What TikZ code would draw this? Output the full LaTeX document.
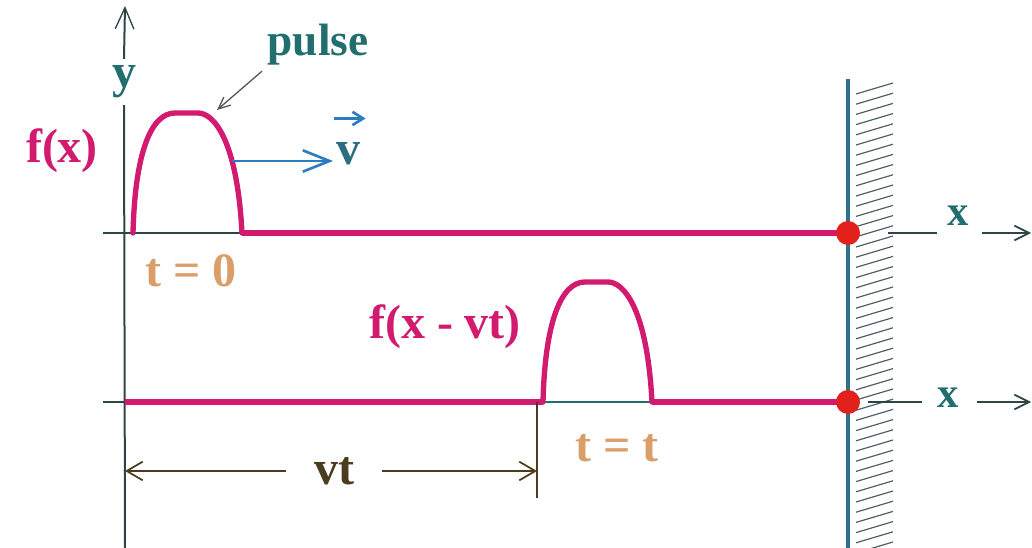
\documentclass[tikz,border=0pt]{standalone}
\usepackage{fontspec}
\setmainfont{Liberation Serif}
\usetikzlibrary{arrows.meta,positioning}
\definecolor{WaveMagenta}{HTML}{D21A6E}
\definecolor{WaveTeal}{HTML}{226E6E}
\definecolor{WaveVtext}{HTML}{2A6E80}
\definecolor{WaveTan}{HTML}{DA9E68}
\definecolor{WaveBlue}{HTML}{2C7DC0}
\definecolor{WaveWall}{HTML}{2E6F8C}
\definecolor{WaveRed}{HTML}{E2201C}
\definecolor{WaveBrown}{HTML}{4A3C1C}
\definecolor{WaveAxis}{HTML}{2F4545}
\tikzset{
  lbl/.style={font=\fontsize{36}{40}\selectfont\bfseries, inner sep=0pt},
  axisline/.style={WaveAxis, line width=1.5pt},
  stringline/.style={WaveMagenta, line width=4.5pt},
  pulseline/.style={WaveMagenta, line width=4pt, line join=round, line cap=round},
  wallline/.style={WaveWall, line width=3pt},
  hatchline/.style={WaveAxis!85, line width=0.9pt},
  dimline/.style={WaveBrown, line width=1.3pt, -{Straight Barb[length=12pt,width=14pt,line width=1.3pt]}},
  barb/.style={-{Straight Barb[length=11pt,width=11pt,line width=1.3pt]}},
  bigbarb/.style={-{Straight Barb[length=16pt,width=14pt,line width=1pt]}},
  pointer/.style={black!65, line width=1pt, -{Straight Barb[length=9pt,width=8pt,line width=1pt]}},
  pulseshape/.pic={
    \draw[pulseline] (0,0) .. controls (2,-80) and (18,-120) .. (42,-120)
      -- (65,-120) .. controls (80,-120) and (104,-95) .. (109,0);
  }
}

\begin{document}
\begin{tikzpicture}[x=0.75pt,y=-0.75pt]
  \useasboundingbox (0,0) rectangle (1032,548);

  % Reference points
  \coordinate (ybot) at (125,548);
  \coordinate (ytop) at (125,6);
  \coordinate (tickA) at (103,233);
  \coordinate (footA1) at (133,233);
  \coordinate (footA2) at (242,233);
  \coordinate (dotA) at (848,233);
  \coordinate (tickB) at (103,402);
  \coordinate (origB) at (125,402);
  \coordinate (footB1) at (543,402);
  \coordinate (footB2) at (652,402);
  \coordinate (dotB) at (848,402);
  \coordinate (walltop) at (848,79);
  \coordinate (wallbot) at (848,548);

  % Wall with hatching
  \foreach \k in {0,...,45}
    \draw[hatchline] (856,94+10.2*\k) -- ++(37,-11);
  \draw[wallline] (walltop) -- (wallbot);

  % Axes
  \node[lbl, WaveTeal, inner ysep=5pt] (ylab) at (124,82) {y};
  \draw[axisline] (ybot) -- (ylab.south);
  \draw[axisline, bigbarb] (ylab.north) -- (ytop);
  \draw[axisline] (tickA) -- (footA2);
  \draw[axisline] (tickB) -- (origB);
  \draw[axisline, WaveTeal] (footB1) -- (footB2);

  % String and pulses
  \draw[stringline] (footA2) -- (dotA);
  \draw[stringline] (origB) -- (footB1);
  \draw[stringline] (footB2) -- (dotB);
  \pic at (footA1) {pulseshape};
  \pic at (footB1) {pulseshape};
  \fill[WaveRed] (dotA) circle[radius=9pt];
  \fill[WaveRed] (dotB) circle[radius=9pt];

  % x axes beyond the wall
  \coordinate (xA1) at (888,233);
  \coordinate (xA2) at (937,233);
  \coordinate (xA3) at (982,233);
  \coordinate (xA4) at (1031,233);
  \node[lbl, font=\fontsize{32}{36}\selectfont\bfseries, WaveTeal] (xlabA) at (958,216) {x};
  \draw[axisline] (xA1) -- (xA2);
  \draw[axisline, barb] (xA3) -- (xA4);
  \coordinate (xB1) at (868,402);
  \coordinate (xB2) at (922,402);
  \coordinate (xB3) at (977,402);
  \coordinate (xB4) at (1031,402);
  \node[lbl, font=\fontsize{32}{36}\selectfont\bfseries, WaveTeal] (xlabB) at (948,398) {x};
  \draw[axisline] (xB1) -- (xB2);
  \draw[axisline, barb] (xB3) -- (xB4);

  % Velocity
  \coordinate (vstart) at (232,161);
  \node[lbl, WaveVtext] (vlab) at (348,154) {v};
  \draw[WaveBlue, line width=2.2pt, -{Straight Barb[length=20pt,width=16pt,line width=2pt]}, shorten >=2pt] (vstart) -- (vlab.west |- vstart);
  \draw[WaveBlue, line width=2pt, -{Straight Barb[length=8pt,width=10pt,line width=2pt]}]
    ([yshift=18pt,xshift=-1pt]vlab.north west) -- ([yshift=18pt,xshift=4pt]vlab.north east);

  % Labels
  \node[lbl, font=\fontsize{34}{38}\selectfont\bfseries, WaveTeal] (pulselab) at (318,45) {pulse};
  \coordinate (pulsepeak) at (217,110);
  \draw[pointer] ([xshift=-4pt,yshift=-4pt]pulselab.south west) -- (pulsepeak);
  \node[lbl, WaveMagenta] (fx) at (62,151) {f(x)};
  \node[lbl, WaveTan] (t0) at (191,271) {t = 0};
  \node[lbl, WaveMagenta] (fxvt) at (445,327) {f(x - vt)};
  \node[lbl, WaveTan] (tt) at (617,448) {t = t};

  % Distance vt
  \coordinate (mark1) at (537,402);
  \coordinate (mark2) at (537,498);
  \draw[WaveBrown, line width=1.3pt] (mark1) -- (mark2);
  \node[lbl, WaveBrown, inner xsep=21pt] (vt) at (334,471) {vt};
  \draw[dimline] (vt.west) -- (vt.west -| ybot);
  \draw[dimline] (vt.east) -- (vt.east -| mark1);
\end{tikzpicture}
\end{document}
